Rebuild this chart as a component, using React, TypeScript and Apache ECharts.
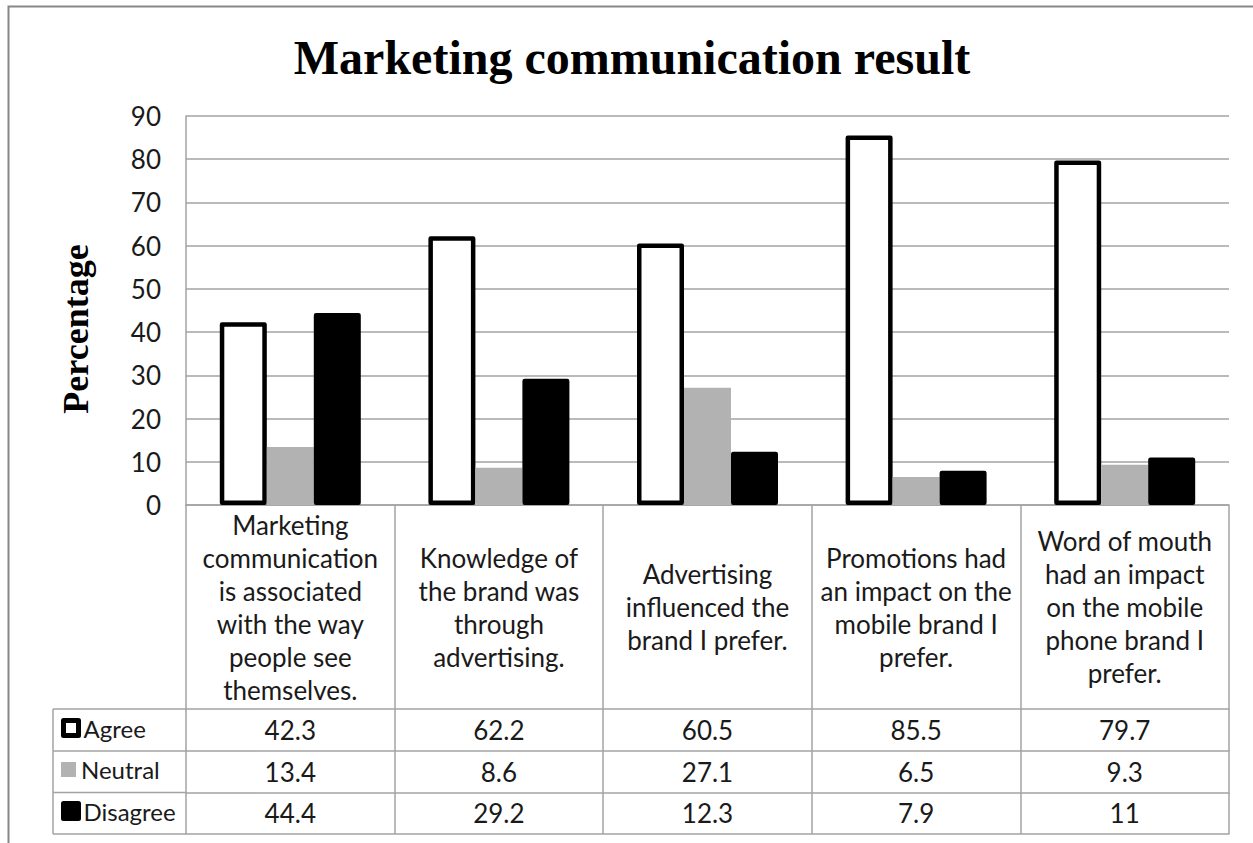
import React, { useEffect, useRef } from "react";
import * as echarts from "echarts";

const categories = [
  "Marketing\ncommunication\nis associated\nwith the way\npeople see\nthemselves.",
  "Knowledge of\nthe brand was\nthrough\nadvertising.",
  "Advertising\ninfluenced the\nbrand I prefer.",
  "Promotions had\nan impact on the\nmobile brand I\nprefer.",
  "Word of mouth\nhad an impact\non the mobile\nphone brand I\nprefer.",
];
const seriesNames = ["Agree", "Neutral", "Disagree"];
const agree = [42.3, 62.2, 60.5, 85.5, 79.7];
const neutral = [13.4, 8.6, 27.1, 6.5, 9.3];
const disagree = [44.4, 29.2, 12.3, 7.9, 11];
const yMin = 0;
const yMax = 90;
const yInterval = 10;

const FONT = "Lato, sans-serif";
const FS = 26;
const TXT = "#1a1a1a";
const LINE = "#a3a3a3";
const LW = 1.5;

export default function App() {
  const ref = useRef<HTMLDivElement>(null);
  useEffect(() => {
    if (!ref.current) return;
    const chart = echarts.init(ref.current, undefined, { renderer: "svg" });
    const rowAxis = (data: (string | number)[], offset: number, margin: number, show: boolean) => ({
      type: "category",
      data: data.map((v) => String(v)),
      position: "bottom",
      offset,
      gridIndex: 0,
      axisLine: { show: true, lineStyle: { color: LINE, width: LW } },
      axisTick: { show: false },
      splitLine: { show: false },
      axisLabel: {
        show,
        interval: 0,
        margin,
        verticalAlign: "middle",
        fontFamily: FONT,
        fontSize: FS,
        color: TXT,
      },
    });
    const legendLine = (x1: number, y1: number, x2: number, y2: number) => ({
      type: "line",
      shape: { x1, y1, x2, y2 },
      style: { stroke: LINE, lineWidth: LW },
      silent: true,
    });
    const legendStyles = [
      { icon: "rect", itemStyle: { color: "#fff", borderColor: "#000", borderWidth: 5 } },
      { icon: "rect", itemStyle: { color: "#b2b2b2", borderWidth: 0 } },
      { icon: "rect", itemStyle: { color: "#000", borderColor: "#000", borderWidth: 5 } },
    ];
    const legendTops = [716, 757.5, 799];
    const legends = seriesNames.map((name, i) => ({
      orient: "vertical",
      left: 61,
      top: legendTops[i],
      padding: 0,
      itemWidth: 15,
      itemHeight: 15,
      selectedMode: false,
      textStyle: { fontFamily: FONT, fontSize: 24, color: TXT, lineHeight: 20 },
      data: [{ name, ...legendStyles[i] }],
    }));
    chart.setOption({
      animation: false,
      backgroundColor: "#fff",
      grid: { left: 186, top: 116, right: 24, bottom: 338, containLabel: false },
      legend: legends,
      xAxis: [
        {
          type: "category",
          data: categories,
          position: "bottom",
          axisLine: { show: true, lineStyle: { color: LINE, width: LW } },
          axisTick: { show: true, interval: 0, length: 329, lineStyle: { color: LINE, width: LW } },
          splitLine: { show: false },
          axisLabel: {
            interval: 0,
            margin: 102,
            verticalAlign: "middle",
            align: "center",
            lineHeight: 33,
            fontFamily: FONT,
            fontSize: FS,
            color: TXT,
          },
        },
        rowAxis(agree, 204, 21, true),
        rowAxis(neutral, 246, 20.5, true),
        rowAxis(disagree, 287.5, 20.5, true),
        rowAxis(agree, 329, 0, false),
      ],
      yAxis: {
        type: "value",
        min: yMin,
        max: yMax,
        interval: yInterval,
        axisLine: { show: true, lineStyle: { color: LINE, width: LW } },
        axisTick: { show: false },
        splitLine: { show: true, lineStyle: { color: LINE, width: LW } },
        axisLabel: { margin: 25, fontFamily: FONT, fontSize: FS, color: TXT },
      },
      series: [
        {
          name: seriesNames[0],
          type: "bar",
          data: agree,
          barWidth: 47,
          barGap: "0%",
          itemStyle: { color: "#fff", borderColor: "#000", borderWidth: 4.5, borderJoin: "round" },
        },
        {
          name: seriesNames[1],
          type: "bar",
          data: neutral,
          barWidth: 47,
          barGap: "0%",
          itemStyle: { color: "#b2b2b2" },
        },
        {
          name: seriesNames[2],
          type: "bar",
          data: disagree,
          barWidth: 47,
          barGap: "0%",
          itemStyle: { color: "#000", borderColor: "#000", borderWidth: 4.5, borderJoin: "round" },
        },
      ],
      graphic: [
        {
          type: "rect",
          shape: { x: 8.5, y: 6.5, width: 1300, height: 900 },
          style: { fill: "none", stroke: "#878787", lineWidth: 2 },
          silent: true,
          z: -10,
        },
        {
          type: "text",
          x: 632,
          y: 57,
          style: {
            text: "Marketing communication result",
            font: "bold 48px 'Liberation Serif', 'Times New Roman', serif",
            fill: "#000",
            align: "center",
            verticalAlign: "middle",
          },
        },
        {
          type: "text",
          x: 76,
          y: 329,
          rotation: Math.PI / 2,
          style: {
            text: "Percentage",
            font: "bold 36px 'Liberation Serif', 'Times New Roman', serif",
            fill: "#000",
            align: "center",
            verticalAlign: "middle",
          },
        },
        legendLine(53, 709, 186, 709),
        legendLine(53, 751, 186, 751),
        legendLine(53, 792.5, 186, 792.5),
        legendLine(53, 834, 186, 834),
        legendLine(53, 709, 53, 834),
      ],
    });
    return () => chart.dispose();
  }, []);
  return (
    <div
      ref={ref}
      style={{ position: "absolute", left: 0, top: 0, width: 1253, height: 843 }}
    />
  );
}
